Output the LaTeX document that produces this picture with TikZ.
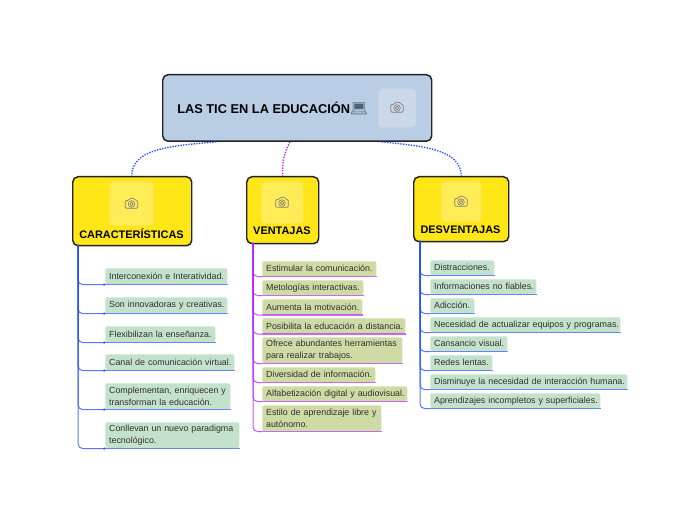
\documentclass[tikz,border=0pt]{standalone}
\usepackage{fontspec}
\setmainfont{Liberation Sans}
\newfontfamily\emojifont{Noto Emoji}
\definecolor{rootfill}{HTML}{B9CDE5}
\definecolor{rootph}{HTML}{CBD8EA}
\definecolor{yel}{HTML}{FFE616}
\definecolor{yelph}{HTML}{FFEC57}
\definecolor{edge}{HTML}{222222}
\definecolor{greenitem}{HTML}{C4E2CB}
\definecolor{oliveitem}{HTML}{CFDBA5}
\definecolor{bluel}{HTML}{1F4BFF}
\definecolor{purpl}{HTML}{B81FFF}
\definecolor{itemtext}{HTML}{303030}
\tikzset{
  x=0.75pt,y=-0.75pt,
  boxbase/.style={draw=edge,line width=1.1pt,rounded corners=4pt,anchor=north west,inner sep=0pt},
  rootbox/.style={boxbase,fill=rootfill},
  topicbox/.style={boxbase,fill=yel},
  photobox/.style={anchor=north west,inner sep=0pt,rounded corners=3pt,draw=#1!85!black!20!#1,fill=#1,line width=.3pt},
  itembox/.style={anchor=north west,inner sep=0pt,rounded corners=1.6pt,font=\fontsize{6.65pt}{8.6pt}\selectfont,text=itemtext},
  gitem/.style={itembox,fill=greenitem},
  oitem/.style={itembox,fill=oliveitem},
  toplabel/.style={font=\bfseries\fontsize{8.2pt}{9pt}\selectfont,text=black,inner sep=0pt},
  dotlink/.style={densely dotted,line width=1pt},
  branch/.style={line width=.75pt,rounded corners=3.5pt,draw opacity=.75},
  uline/.style={line width=.8pt,draw opacity=.65},
}
\newcommand{\camera}[3]{% x y colour
  \begin{scope}[shift={(#1,#2)},draw=#3,line width=.5pt,line join=round]
    \draw[rounded corners=.8pt] (-6.2,-3) -- (-3,-3) -- (-1.8,-5.2) -- (2.8,-5.2) -- (4,-3) -- (6.2,-3) -- (6.2,4.8) -- (-6.2,4.8) -- cycle;
    \draw (0,0.6) circle[radius=3.3];
    \draw (0,0.6) circle[radius=1.7];
  \end{scope}}
\newcommand{\itemnode}[6]{% style name x y right bottom
  \node[#1,minimum width={(#5-#3)*0.75pt},minimum height={(#6-#4)*0.75pt},text width={(#5-#3)*0.75pt}] (#2) at (#3,#4) {\parindent=0pt\leftskip=2.9pt\rightskip=-60pt plus 1fil\relax\parfillskip=0pt\relax\itemtext\par};}
\begin{document}
\begin{tikzpicture}
\useasboundingbox[fill=white] (0,0) rectangle (697,520);
% main boxes
\node[rootbox,minimum width={269*0.75pt},minimum height={66.5*0.75pt}] (root) at (162,74) {};
\node[anchor=west,inner sep=0pt,font=\bfseries\fontsize{9.6pt}{11pt}\selectfont] (title) at (177,108) {LAS TIC EN LA EDUCACIÓN{\emojifont\fontsize{10.5pt}{11pt}\selectfont\textcolor[HTML]{4A6470}{💻}}};
\node[photobox=rootph,minimum width={38*0.75pt},minimum height={39*0.75pt}] (rootphoto) at (378,88.5) {};
\camera{397}{107.5}{gray}

\node[topicbox,minimum width={119*0.75pt},minimum height={69*0.75pt}] (car) at (72,176) {};
\node[photobox=yelph,minimum width={44*0.75pt},minimum height={44*0.75pt}] (carphoto) at (109.5,181.5) {};
\camera{131.5}{203.5}{gray}
\node[toplabel] (carlabel) at (131.5,234) {CARACTERÍSTICAS};

\node[topicbox,minimum width={72*0.75pt},minimum height={67*0.75pt}] (ven) at (246,176) {};
\node[photobox=yelph,minimum width={42*0.75pt},minimum height={42*0.75pt}] (venphoto) at (261,181.5) {};
\camera{282}{202.5}{gray}
\node[toplabel] (venlabel) at (282,231) {VENTAJAS};

\node[topicbox,minimum width={95*0.75pt},minimum height={65*0.75pt}] (des) at (413,176) {};
\node[photobox=yelph,minimum width={40*0.75pt},minimum height={40*0.75pt}] (desphoto) at (441,181.5) {};
\camera{461}{201.5}{gray}
\node[toplabel] (deslabel) at (460.5,230) {DESVENTAJAS};

% links from the root
\draw[dotlink,draw=bluel] ([xshift={-81*0.75pt}]root.south) .. controls (165,146) and (132,150) .. ([xshift={-0.5*0.75pt}]car.north);
\draw[dotlink,draw=purpl] ([xshift={-7.5*0.75pt}]root.south) .. controls (284,155) and (282,160) .. (ven.north);
\draw[dotlink,draw=bluel] ([xshift={84.5*0.75pt}]root.south) .. controls (425,146) and (461,150) .. (des.north);

\coordinate (cart) at (78,245);
\coordinate (vent) at (253,243);
\coordinate (dest) at (420,241);

\def\itemtext{Interconexión e Interatividad.}\itemnode{gitem}{a1}{105}{268}{227}{284}
\def\itemtext{Son innovadoras y creativas.}\itemnode{gitem}{a2}{105}{297}{227}{313}
\def\itemtext{Flexibilizan la enseñanza.}\itemnode{gitem}{a3}{105}{326}{215}{342}
\def\itemtext{Canal de comunicación virtual.}\itemnode{gitem}{a4}{105}{354}{234}{370}
\def\itemtext{Complementan, enriquecen y\par transforman la educación.}\itemnode{gitem}{a5}{105}{383}{230}{409}
\def\itemtext{Conllevan un nuevo paradigma\par tecnológico.}\itemnode{gitem}{a6}{105}{422}{239}{448}

\def\itemtext{Estimular la comunicación.}\itemnode{oitem}{b1}{262}{261}{376}{276}
\def\itemtext{Metologías interactivas.}\itemnode{oitem}{b2}{262}{280}{363}{295}
\def\itemtext{Aumenta la motivación.}\itemnode{oitem}{b3}{262}{299}{362}{314.5}
\def\itemtext{Posibilita la educación a distancia.}\itemnode{oitem}{b4}{262}{318}{405}{333.5}
\def\itemtext{Ofrece abundantes herramientas\par para realizar trabajos.}\itemnode{oitem}{b5}{262}{337}{402}{363}
\def\itemtext{Diversidad de información.}\itemnode{oitem}{b6}{262}{367}{375}{382}
\def\itemtext{Alfabetización digital y audiovisual.}\itemnode{oitem}{b7}{262}{386}{407}{401}
\def\itemtext{Estilo de aprendizaje libre y\par autónomo.}\itemnode{oitem}{b8}{262}{405}{381}{431}

\def\itemtext{Distracciones.}\itemnode{gitem}{c1}{430}{260}{494}{275}
\def\itemtext{Informaciones no fiables.}\itemnode{gitem}{c2}{430}{279}{536}{294}
\def\itemtext{Adicción.}\itemnode{gitem}{c3}{430}{298}{474}{313}
\def\itemtext{Necesidad de actualizar equipos y programas.}\itemnode{gitem}{c4}{430}{317}{620}{332}
\def\itemtext{Cansancio visual.}\itemnode{gitem}{c5}{430}{336}{507}{351}
\def\itemtext{Redes lentas.}\itemnode{gitem}{c6}{430}{355}{492}{370}
\def\itemtext{Disminuye la necesidad de interacción humana.}\itemnode{gitem}{c7}{430}{374}{627}{389}
\def\itemtext{Aprendizajes incompletos y superficiales.}\itemnode{gitem}{c8}{430}{393}{600}{408}

\foreach \n in {a1,a2,a3,a4,a5,a6}{
  \draw[branch,draw=bluel] (cart) |- (\n.south west);
  \draw[uline,draw=bluel] (\n.south west) -- (\n.south east);
  \fill[bluel] ([xshift=-.6pt]\n.south west) circle[radius=.9pt];
}
\foreach \n in {b1,b2,b3,b4,b5,b6,b7,b8}{
  \draw[branch,draw=purpl] (vent) |- (\n.south west);
  \draw[uline,draw=purpl] (\n.south west) -- (\n.south east);
}
\foreach \n in {c1,c2,c3,c4,c5,c6,c7,c8}{
  \draw[branch,draw=bluel] (dest) |- (\n.south west);
  \draw[uline,draw=bluel] (\n.south west) -- (\n.south east);
}
\end{tikzpicture}
\end{document}
